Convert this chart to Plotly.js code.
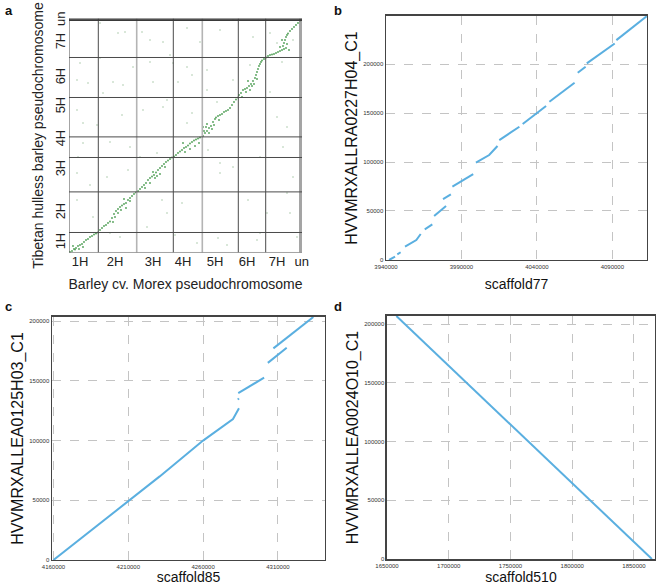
<!DOCTYPE html>
<html><head><meta charset="utf-8">
<script src="https://cdn.plot.ly/plotly-3.0.1.min.js"></script>
<style>html,body{margin:0;padding:0;background:#fff}#chart{width:660px;height:585px}</style>
</head><body><div id="chart"></div>
<script>
// ---------- Panel a : genome-wide dot plot (Mb) ----------
const chrLabels = ['1H','2H','3H','4H','5H','6H','7H','un'];
const morexBounds = [0,586,1354,2086,2666,3386,3934,4620,4660];
const tibetBounds = [0,400,1212,1900,2312,3100,3900,4646,4680];
const morexLabelPos = [220,920,1680,2280,2920,3560,4160,4655];
const tibetLabelPos = [190,790,1650,2250,2910,3490,4190,4636];

const syntenyX = [
 20,60,100,140,180,220,260,300,340,380,420,460,500,540,580,120,200,80,280,
 620,660,700,740,780,820,860,900,940,980,1020,1060,1100,1140,1180,1220,1260,1300,1340,920,980,1040,1140,1100,880,1220,
 1380,1420,1460,1500,1540,1580,1620,1660,1700,1740,1780,1820,1860,1900,1940,1980,2020,2060,1620,1720,1760,1680,1820,1520,1920,
 2100,2140,2180,2220,2260,2300,2340,2380,2420,2460,2500,2540,2580,2620,2320,2420,2520,2600,2280,
 2680,2720,2760,2800,2840,2880,2920,2940,2980,3020,3060,3100,3140,3180,3220,3260,3300,3340,3380,2700,2740,2800,2860,2900,2760,3000,2680,
 3400,3440,3480,3520,3560,3600,3640,3680,3720,3740,3760,3780,3800,3820,3840,3860,3900,3940,3460,3540,3620,3660,3580,3700,3760,
 3980,4020,4060,4100,4140,4180,4220,4260,4300,4340,4320,4340,4360,4380,4420,4460,4500,4540,4580,4620,4280,4300,4260,4360,4220,4400
];
const syntenyY = [
 10,30,70,90,130,150,170,210,250,270,310,330,360,380,400,60,70,130,110,
 450,490,530,550,590,620,690,770,830,870,910,940,970,990,1050,1090,1130,1170,1200,710,790,850,890,1070,610,1030,
 1230,1270,1310,1350,1390,1450,1490,1520,1550,1600,1650,1690,1730,1770,1810,1840,1870,1900,1390,1490,1530,1610,1570,1290,1710,
 1920,1950,1990,2020,2050,2090,2110,2140,2180,2210,2240,2260,2280,2300,2010,2070,2130,2190,2190,
 2330,2390,2430,2490,2530,2610,2670,2700,2730,2750,2770,2810,2830,2850,2890,2950,3010,3060,3100,2430,2510,2390,2470,2550,2570,2650,2510,
 3150,3190,3250,3270,3290,3330,3370,3430,3490,3550,3610,3670,3730,3770,3810,3840,3870,3900,3110,3210,3250,3330,3430,3370,3470,
 3930,3950,3960,3970,3990,4010,4030,4050,4070,4090,4250,4310,4350,4380,4430,4470,4510,4550,4590,4640,4130,4190,4250,4170,4110,4050
];
const noiseX = [620,980,1120,1460,1620,1880,2020,2360,2620,3020,3280,4160,160,380,680,880,1080,1680,2180,2360,2460,2760,2960,4160,4360,4020,
 160,280,560,1060,1480,1880,1960,2460,2360,280,180,820,1220,1420,1760,2780,3020,3280,3820,4280,4480,160,420,760,1180,1860,1960,2260,3020,3580,3960,4360,4420,
 160,820,1020,1560,2120,2560,2980,3160,3760,3820,4560,480,220,620,1280,1620,2080,2760,3280,3620,4260,4020,4480,3680];
const noiseY = [4590,4390,4410,4410,4250,4210,3950,4490,4210,4450,4650,4190,3450,3390,3190,3410,3350,3410,3410,3710,3550,3250,3010,2710,2510,3210,
 2850,2590,2550,2750,2850,2910,3050,2790,2590,2190,1910,2210,2110,1910,1990,2050,1790,1710,1910,2110,1510,1590,1350,1510,1650,1050,790,990,1590,1050,790,1190,790,
 1050,390,310,510,350,190,290,150,250,390,310,710,3790,3890,3710,3810,3790,3650,3450,3750,3810,4390,4250,4310];

// ---------- Panel b : scaffold77 vs HVVMRXALLRA0227H04_C1 ----------
const bX = [3942000,3946000,null,3947500,3949700,null,3952600,3960100,3963000,null,3965700,3970700,null,3971900,3979800,null,
 3977800,3983000,null,3984000,3997800,null,3999600,4008400,4013900,null,4015100,4028400,null,4030600,4046100,null,
 4048300,4065000,null,4067100,4072300,null,4073100,4091600,null,4092700,4112900];
const bY = [0,3400,null,5800,7900,null,13600,20400,26500,null,31300,36400,null,44900,55100,null,
 62200,67000,null,74800,87700,null,99300,107100,116300,null,122400,136000,null,138700,157100,null,
 161500,180900,null,191100,197200,null,200600,221000,null,224400,248900];
const bXTicks = [3940000,3990000,4040000,4090000];
const bYTicks = [0,50000,100000,150000,200000];

// ---------- Panel c : scaffold85 vs HVVMRXALLEA0125H03_C1 ----------
const cX = [4160000,4231000,4260000,4280000,4284000,null,4283300,4283900,null,4283500,4300800,null,4303300,4315900,null,4307000,4333700];
const cY = [0,70000,100000,118000,127000,null,134300,135300,null,139700,152700,null,165100,177700,null,177200,203500];
const cXTicks = [4160000,4210000,4260000,4310000];
const cYTicks = [0,50000,100000,150000,200000];

// ---------- Panel d : scaffold510 vs HVVMRXALLEA0024O10_C1 ----------
const dX = [1657600,1864500];
const dY = [207000,0];
const dXTicks = [1650000,1700000,1750000,1800000,1850000];
const dYTicks = [0,50000,100000,150000,200000];

const FONT = 'Arial, "Liberation Sans", sans-serif';
const BLUE = '#5aafe0';

const traces = [
  {x: noiseX, y: noiseY, xaxis:'x', yaxis:'y', mode:'markers', type:'scatter',
   marker:{size:1.6, color:'#a9c9a9'}, hoverinfo:'skip'},
  {x: syntenyX, y: syntenyY, xaxis:'x', yaxis:'y', mode:'markers', type:'scatter',
   marker:{size:1.8, color:'#4f9f55'}, hoverinfo:'skip'},
  {x: bX, y: bY, xaxis:'x2', yaxis:'y2', mode:'lines', type:'scatter', line:{color:BLUE, width:2}},
  {x: cX, y: cY, xaxis:'x3', yaxis:'y3', mode:'lines', type:'scatter', line:{color:BLUE, width:2}},
  {x: dX, y: dY, xaxis:'x4', yaxis:'y4', mode:'lines', type:'scatter', line:{color:BLUE, width:2}}
];

const shapes = [];
morexBounds.forEach((v,i) => {
  const light = (i === 2 || i === 4);
  shapes.push({type:'line', xref:'x', yref:'y', x0:v, x1:v, y0:0, y1:tibetBounds[tibetBounds.length-1],
    line:{color: light ? '#b4b4b4' : '#4a4a4a', width: light ? 1.6 : 1}, layer:'above'});
});
tibetBounds.forEach((v,i) => {
  const top = (i >= tibetBounds.length-2);
  shapes.push({type:'line', xref:'x', yref:'y', y0:v, y1:v, x0:0, x1:morexBounds[morexBounds.length-1],
    line:{color: top ? '#3a3a3a' : '#4a4a4a', width: top ? 1.8 : 1}, layer:'above'});
});

function dotAxis(domain, range, ticks, title, standoff, anchor){
  return {domain, range, anchor, tickvals: ticks, tickformat:'d', ticks:'',
    showgrid:true, gridcolor:'#c4c4c4', griddash:'dash', gridwidth:1, zeroline:false,
    showline:true, mirror:true, linecolor:'#444', linewidth:1.5,
    tickfont:{family:FONT, size:6, color:'#333'},
    title:{text:title, font:{family:FONT, size: title.startsWith('HVV') ? 16 : 14, color:'#111'}, standoff},
    fixedrange:true};
}

const layout = {
  width:660, height:585, margin:{l:0,r:0,t:0,b:0},
  paper_bgcolor:'#fff', plot_bgcolor:'#fff', showlegend:false,
  font:{family:FONT, color:'#111'},
  xaxis:{domain:[0.10455,0.45758], range:[0,4660], anchor:'y', showgrid:false, zeroline:false, showline:false,
    ticks:'', tickvals:morexLabelPos, ticktext:chrLabels, tickfont:{family:FONT,size:13,color:'#222'},
    title:{text:'Barley cv. Morex pseudochromosome', font:{family:FONT,size:14,color:'#222'}, standoff:10}},
  yaxis:{domain:[0.56838,0.96838], range:[0,4680], anchor:'x', showgrid:false, zeroline:false, showline:false,
    ticks:'', tickvals:tibetLabelPos, ticktext:chrLabels, tickangle:-90, tickfont:{family:FONT,size:13,color:'#222'},
    title:{text:'Tibetan hulless barley pseudochromosome', font:{family:FONT,size:14,color:'#222'}, standoff:6}},
  xaxis2: dotAxis([0.58485,0.98030],[3940000,4113000],bXTicks,'scaffold77',10,'y2'),
  yaxis2: dotAxis([0.55556,0.97265],[0,249000],bYTicks,'HVVMRXALLRA0227H04_C1',1,'x2'),
  xaxis3: dotAxis([0.07879,0.49242],[4159000,4341500],cXTicks,'scaffold85',6,'y3'),
  yaxis3: dotAxis([0.04274,0.45812],[0,203500],cYTicks,'HVVMRXALLEA0125H03_C1',1,'x3'),
  xaxis4: dotAxis([0.58636,0.99242],[1650000,1867000],dXTicks,'scaffold510',6,'y4'),
  yaxis4: dotAxis([0.04444,0.45983],[0,207000],dYTicks,'HVVMRXALLEA0024O10_C1',1,'x4'),
  shapes,
  annotations:[
    {text:'<b>a</b>', xref:'paper', yref:'paper', x:0.004, y:0.998, xanchor:'left', yanchor:'top', showarrow:false, font:{family:FONT,size:13,color:'#111'}},
    {text:'<b>b</b>', xref:'paper', yref:'paper', x:0.503, y:0.998, xanchor:'left', yanchor:'top', showarrow:false, font:{family:FONT,size:13,color:'#111'}},
    {text:'<b>c</b>', xref:'paper', yref:'paper', x:0.004, y:0.493, xanchor:'left', yanchor:'top', showarrow:false, font:{family:FONT,size:13,color:'#111'}},
    {text:'<b>d</b>', xref:'paper', yref:'paper', x:0.503, y:0.493, xanchor:'left', yanchor:'top', showarrow:false, font:{family:FONT,size:13,color:'#111'}}
  ]
};

Plotly.newPlot('chart', traces, layout, {staticPlot:true, displayModeBar:false});
</script></body></html>
